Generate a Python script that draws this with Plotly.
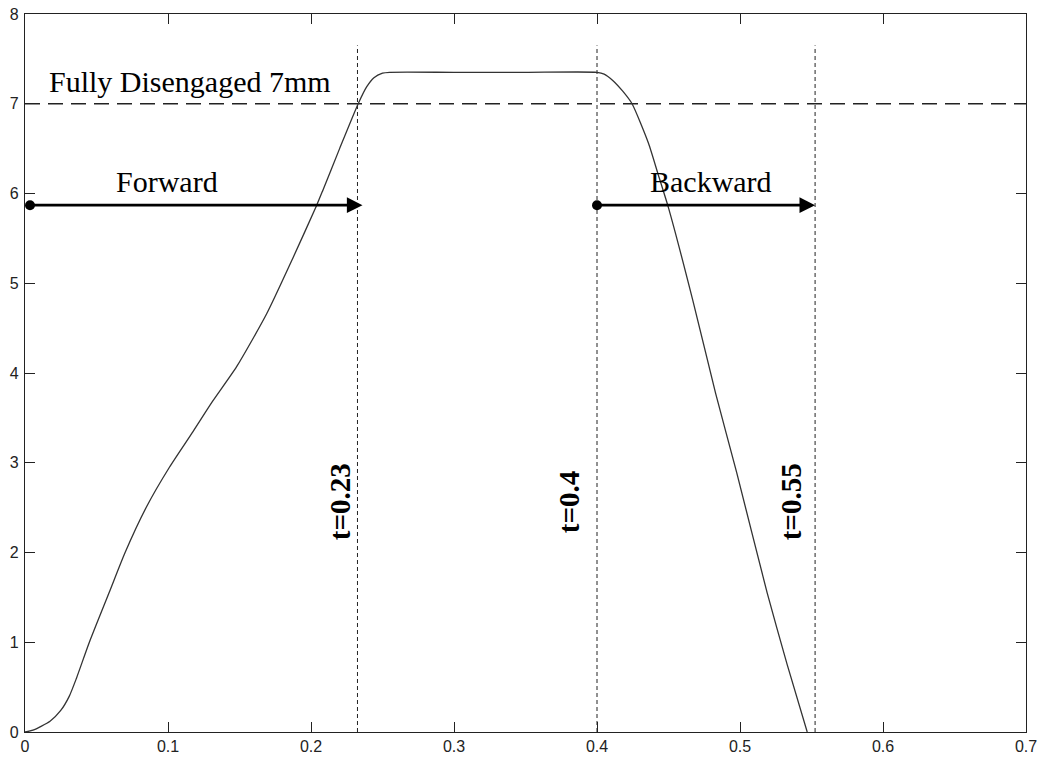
import plotly.graph_objects as go

# Displacement profile of the clutch (time in s, displacement in mm)
time_s = [0.000, 0.0056, 0.0175, 0.025, 0.031, 0.036, 0.045, 0.059, 0.070, 0.085,
          0.101, 0.1176, 0.131, 0.148, 0.169, 0.1876, 0.204, 0.2084, 0.220, 0.233,
          0.239, 0.244, 0.250, 0.255, 0.300, 0.350, 0.400, 0.405, 0.411, 0.418,
          0.4245, 0.436, 0.443, 0.450, 0.467, 0.483, 0.4977, 0.519, 0.533, 0.547]
disp_mm = [0.00, 0.02, 0.12, 0.24, 0.40, 0.60, 1.00, 1.56, 2.00, 2.51,
           2.95, 3.35, 3.68, 4.07, 4.66, 5.29, 5.87, 6.04, 6.50, 7.00,
           7.19, 7.29, 7.34, 7.35, 7.35, 7.35, 7.35, 7.33, 7.26, 7.14,
           7.00, 6.56, 6.20, 5.84, 4.81, 3.77, 2.89, 1.55, 0.75, 0.00]

# Reference level and event markers
disengaged_level = 7.0
event_times = [0.2325, 0.400, 0.5525]
event_labels = ["t=0.23", "t=0.4", "t=0.55"]
event_line_top = 7.65

# Phase arrows: start time, end time, level, caption
phase_starts = [0.0035, 0.400]
phase_ends = [0.236, 0.5525]
phase_level = 5.87
phase_names = ["Forward", "Backward"]
phase_label_x = [0.0993, 0.480]
phase_label_y = 6.13

x_ticks = [0, 0.1, 0.2, 0.3, 0.4, 0.5, 0.6, 0.7]
x_tick_text = ["0", "0.1", "0.2", "0.3", "0.4", "0.5", "0.6", "0.7"]
y_ticks = [0, 1, 2, 3, 4, 5, 6, 7, 8]

serif = "Liberation Serif, Times New Roman, serif"

fig = go.Figure()

# Fully disengaged threshold
fig.add_trace(go.Scatter(
    x=[0, 0.7], y=[disengaged_level, disengaged_level], mode="lines",
    line=dict(color="#222", width=1.3, dash="15px,8px"), hoverinfo="skip"))

# Dotted event markers
for t in event_times:
    fig.add_trace(go.Scatter(
        x=[t, t], y=[0, event_line_top], mode="lines",
        line=dict(color="#222", width=1, dash="4px,3px"), hoverinfo="skip"))

# Displacement curve
fig.add_trace(go.Scatter(
    x=time_s, y=disp_mm, mode="lines",
    line=dict(color="#333", width=1.3, shape="spline", smoothing=0.6)))

# Arrow start dots
fig.add_trace(go.Scatter(
    x=phase_starts, y=[phase_level] * len(phase_starts), mode="markers",
    marker=dict(color="black", size=10), hoverinfo="skip"))

annotations = []
for s, e in zip(phase_starts, phase_ends):
    annotations.append(dict(
        x=e, y=phase_level, ax=s, ay=phase_level,
        xref="x", yref="y", axref="x", ayref="y",
        text="", showarrow=True, arrowhead=2, arrowsize=1.2,
        arrowwidth=2.6, arrowcolor="black"))

for name, lx in zip(phase_names, phase_label_x):
    annotations.append(dict(
        x=lx, y=phase_label_y, xref="x", yref="y", text=name,
        showarrow=False, font=dict(family=serif, size=30, color="black")))

annotations.append(dict(
    x=0.0154, y=7.25, xref="x", yref="y", text="Fully Disengaged 7mm",
    xanchor="left", showarrow=False,
    font=dict(family=serif, size=30, color="black")))

label_x = [0.2203, 0.3804, 0.5357]
for lx, lab in zip(label_x, event_labels):
    annotations.append(dict(
        x=lx, y=2.56, xref="x", yref="y", text="<b>" + lab + "</b>",
        textangle=-90, showarrow=False,
        font=dict(family=serif, size=29, color="black")))

axis_common = dict(
    showgrid=False, zeroline=False, showline=True, linecolor="#222",
    linewidth=1.3, mirror="ticks", ticks="inside", ticklen=10,
    tickcolor="#222", tickwidth=1.3, automargin=False,
    tickfont=dict(family="Liberation Sans, Arial, sans-serif", size=16,
                  color="#222"))

fig.update_layout(
    width=1039, height=757, showlegend=False,
    paper_bgcolor="white", plot_bgcolor="white",
    margin=dict(l=25, r=13, t=14, b=25),
    annotations=annotations,
    xaxis=dict(range=[0, 0.7], tickvals=x_ticks, ticktext=x_tick_text,
               ticklabelstandoff=0, **axis_common),
    yaxis=dict(range=[0, 8], tickvals=y_ticks, ticklabelstandoff=2,
               **axis_common),
)

fig.write_html("out.html")
